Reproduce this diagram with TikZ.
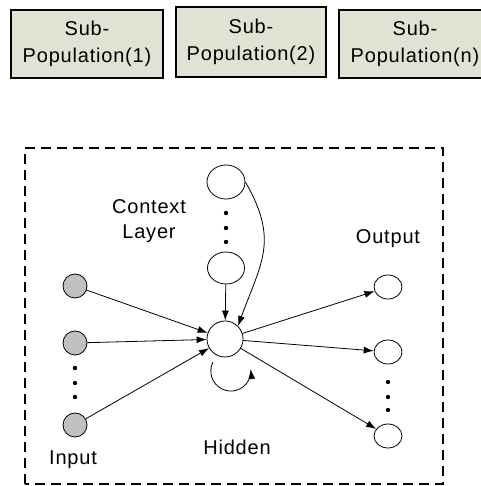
\documentclass[tikz,border=0pt]{standalone}
\usepackage{fontspec}
\setmainfont{Liberation Sans}[LetterSpace=4]
\usepackage{tikz}
\usetikzlibrary{arrows.meta,shapes.geometric}
\definecolor{boxfill}{RGB}{225,225,212}
\definecolor{ingray}{RGB}{192,192,192}
\tikzset{pop box/.style={draw,fill=boxfill,rectangle,line width=1.2pt,minimum width=152pt,minimum height=68pt,align=center,inner sep=1pt,font=\fontsize{20}{27}\selectfont}}
\tikzset{unit/.style={draw,fill=white,ellipse,inner sep=0}}
\tikzset{layer label/.style={align=center,font=\fontsize{20}{25}\selectfont}}
\def\bigdot{circle (2.2pt)}

\begin{document}
\begin{tikzpicture}[auto, line width=0.8pt, >={Latex[length=10pt,width=7pt]}]
      \useasboundingbox (0,0) rectangle (480pt,486pt);

      %サブ集団
      \node[pop box] (sp1) at (87pt, 442pt) {Sub-\\Population(1)};
      \node[pop box, minimum width=150pt, minimum height=70pt] (sp2) at (251pt, 444pt) {Sub-\\Population(2)};
      \node[pop box] (spn) at (415pt, 442pt) {Sub-\\Population(n)};

      %ネットワークの枠
      \draw[dashed, dash pattern=on 10pt off 6pt, line width=1.2pt] (25pt, 2pt) rectangle (443pt, 338pt);

      %隠れ層
      \node[unit, minimum width=36pt, minimum height=36pt] (hid) at (225pt, 147pt) {};
      \node[layer label] (hidlabel) at (237pt, 39pt) {Hidden};

      %文脈層
      \node[unit, minimum width=38pt, minimum height=34pt] (ctx1) at (226pt, 304pt) {};
      \node[unit, minimum width=37pt, minimum height=32pt] (ctx2) at (226pt, 218pt) {};
      \fill (226pt, 273pt) \bigdot;
      \fill (226pt, 258pt) \bigdot;
      \fill (226pt, 244pt) \bigdot;
      \node[layer label] (ctxlabel) at (149pt, 265pt) {Context\\Layer};

      %入力層
      \node[unit, fill=ingray, minimum width=24pt, minimum height=24pt] (in1) at (75pt, 200pt) {};
      \node[unit, fill=ingray, minimum width=24pt, minimum height=24pt] (in2) at (75pt, 143pt) {};
      \node[unit, fill=ingray, minimum width=24pt, minimum height=24pt] (in3) at (75pt, 61pt) {};
      \fill (75pt, 118pt) \bigdot;
      \fill (75pt, 103pt) \bigdot;
      \fill (75pt, 89pt) \bigdot;
      \node[layer label] (inlabel) at (73pt, 26pt) {Input};

      %出力層
      \node[unit, minimum width=28pt, minimum height=24pt] (out1) at (388pt, 199pt) {};
      \node[unit, minimum width=28pt, minimum height=24pt] (out2) at (388pt, 134pt) {};
      \node[unit, minimum width=28pt, minimum height=24pt] (out3) at (388pt, 50pt) {};
      \fill (388pt, 104pt) \bigdot;
      \fill (388pt, 89pt) \bigdot;
      \fill (388pt, 76pt) \bigdot;
      \node[layer label] (outlabel) at (388pt, 247pt) {Output};

      %入力->隠れ
      \draw[->] (in1) to (hid);
      \draw[->] (in2) to (hid);
      \draw[->] (in3) to (hid);

      %文脈->隠れ
      \draw[->] (ctx2) to (hid);
      \draw[->] (ctx1.east) to[out=-60, in=70, looseness=1.2] (hid.north east);

      %隠れ->隠れ
      \coordinate (loopstart) at (213pt, 124pt);
      \draw[->] (loopstart) arc[start angle=153, end angle=366, radius=20pt];

      %隠れ->出力
      \draw[->] (hid) to (out1);
      \draw[->] (hid) to (out2);
      \draw[->] (hid) to (out3);

    \end{tikzpicture}
\end{document}
